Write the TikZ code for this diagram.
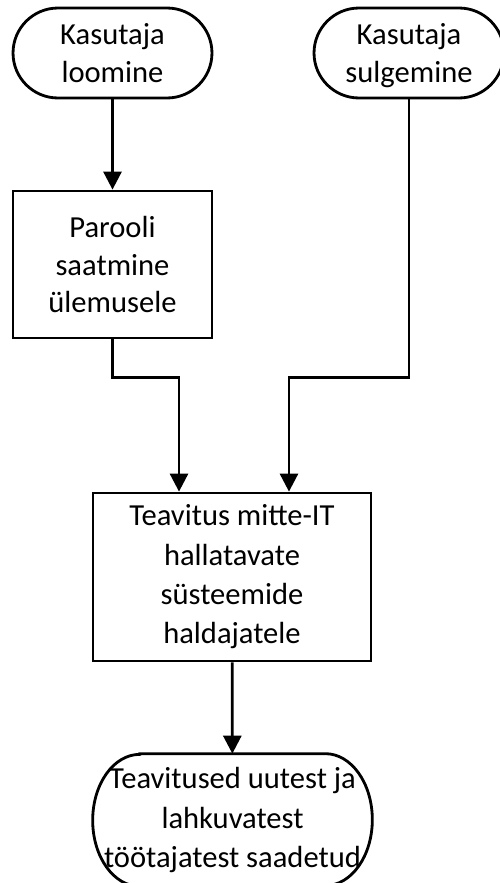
\documentclass[tikz,border=0pt]{standalone}
\usepackage{fontspec}
\setmainfont{Carlito}
\usepackage{tikz}
\usetikzlibrary{arrows.meta,positioning}

\begin{document}
\begin{tikzpicture}[x=0.02cm,y=0.02cm,
    every node/.style={font=\fontsize{17.4}{21.6}\selectfont, align=center},
    wide/.style={font=\fontsize{17.4}{22.4}\selectfont},
    terminal/.style={draw, line width=1.6pt, rounded corners=0.9cm,
        minimum width=3.8cm, minimum height=1.8cm},
    process/.style={draw, line width=1.6pt, inner sep=0pt},
    flow/.style={line width=1.6pt, -{Triangle[length=0.36cm,width=0.36cm]}}]
\useasboundingbox (0,0) rectangle (500,-883);
\clip (0,0) rectangle (500,-883);
      % algus
      \node[terminal, minimum width=3.98cm] (loomine) at (112.5,-53) {Kasutaja\\loomine};
      \node[terminal] (sulgemine) at (409,-53) {Kasutaja\\\smash{sulgemine}};
      \node[process, minimum width=3.98cm, minimum height=2.94cm] (parool) at (112.5,-264.5)
            {Parooli\\saatmine\\ülemusele};
      \node[process, wide, minimum width=5.56cm, minimum height=3.36cm] (teavitus) at (232,-577)
            {Teavitus mitte-IT\\hallatavate\\süsteemide\\haldajatele};
      % lõpp, otsad on ellipsikaared
      \node[wide, minimum width=5.58cm, minimum height=2.64cm, inner sep=0pt] (saadetud) at (232.5,-820)
            {Teavitused uutest ja\\lahkuvatest\\töötajatest saadetud};
      \draw[line width=1.6pt] ([xshift=0.94cm]saadetud.north west)
            -- ([xshift=-0.94cm]saadetud.north east)
            arc[start angle=90, end angle=-90, x radius=0.94cm, y radius=1.32cm]
            -- ([xshift=0.94cm]saadetud.south west)
            arc[start angle=270, end angle=90, x radius=0.94cm, y radius=1.32cm] -- cycle;
      % nooled
      \draw[flow] (loomine) -- (parool);
      \draw[flow] (parool.south) -- ++(0,-38) -| ([xshift=-1.06cm]teavitus.north);
      \draw[flow] (sulgemine.south) -- ++(0,-278) -| ([xshift=1.14cm]teavitus.north);
      \draw[flow] (teavitus) -- (saadetud);
\end{tikzpicture}
\end{document}
